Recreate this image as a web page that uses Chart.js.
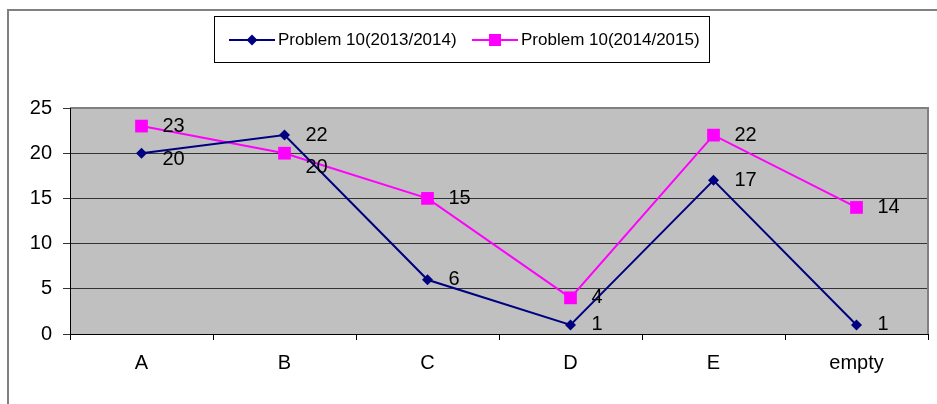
<!DOCTYPE html>
<html>
<head>
<meta charset="utf-8">
<script src="https://cdn.jsdelivr.net/npm/chart.js@4"></script>
<style>
  body { margin: 0; background: #fff; }
  #wrap { width: 937px; height: 404px; }
</style>
</head>
<body>
<div id="wrap"><canvas id="problem-chart" width="937" height="404"></canvas></div>
<script>
// categories and values
const categories = ["A", "B", "C", "D", "E", "empty"];
const series2013 = [20, 22, 6, 1, 17, 1];
const series2014 = [23, 20, 15, 4, 22, 14];
const seriesNames = ["Problem 10(2013/2014)", "Problem 10(2014/2015)"];
const yTicks = [0, 5, 10, 15, 20, 25];

const FONT = "'Liberation Sans', Arial, sans-serif";
const BLUE = "#000080";
const PINK = "#FF00FF";

// little vertical nudges for labels that would collide (like excel does)
const labelNudge = [[6, 0, 0, 0, 0, 0], [0, 14, 0, 0, 0, 0]];

// draws the frame, plot background, legend box and the value labels
const decoPlugin = {
  id: "deco",
  beforeDraw(chart) {
    const ctx = chart.ctx;
    const a = chart.chartArea;
    ctx.save();
    // outer frame (only top and left are visible)
    ctx.strokeStyle = "#808080";
    ctx.lineWidth = 2;
    ctx.beginPath();
    ctx.moveTo(8, 404);
    ctx.lineTo(8, 10);
    ctx.lineTo(937, 10);
    ctx.stroke();
    // grey plot area
    ctx.fillStyle = "#C0C0C0";
    ctx.fillRect(a.left, a.top, a.right - a.left, a.bottom - a.top);
    ctx.restore();
  },
  beforeDatasetsDraw(chart) {
    const ctx = chart.ctx;
    const a = chart.chartArea;
    ctx.save();
    ctx.strokeStyle = "#808080";
    ctx.lineWidth = 2;
    ctx.beginPath();
    ctx.moveTo(a.left, a.top);
    ctx.lineTo(a.right, a.top);
    ctx.lineTo(a.right, a.bottom);
    ctx.stroke();
    ctx.strokeStyle = "#000";
    ctx.lineWidth = 1;
    ctx.beginPath();
    ctx.moveTo(a.left + 0.5, a.top);
    ctx.lineTo(a.left + 0.5, a.bottom + 0.5);
    ctx.lineTo(a.right, a.bottom + 0.5);
    ctx.stroke();
    ctx.restore();
  },
  afterDatasetsDraw(chart) {
    const ctx = chart.ctx;
    ctx.save();
    ctx.font = "20px " + FONT;
    ctx.fillStyle = "#000";
    ctx.textAlign = "left";
    ctx.textBaseline = "middle";
    chart.data.datasets.forEach((ds, i) => {
      const meta = chart.getDatasetMeta(i);
      meta.data.forEach((pt, j) => {
        ctx.fillText(String(ds.data[j]), pt.x + 21, pt.y + labelNudge[i][j]);
      });
    });

    // legend box
    ctx.strokeStyle = "#000";
    ctx.lineWidth = 1;
    ctx.strokeRect(214.5, 16.5, 495, 46);
    const items = [
      { x: 229, color: BLUE, shape: "diamond", text: seriesNames[0] },
      { x: 472, color: PINK, shape: "square", text: seriesNames[1] },
    ];
    ctx.font = "17px " + FONT;
    items.forEach((it) => {
      const y = 40;
      ctx.strokeStyle = it.color;
      ctx.lineWidth = 2;
      ctx.beginPath();
      ctx.moveTo(it.x, y);
      ctx.lineTo(it.x + 46, y);
      ctx.stroke();
      ctx.fillStyle = it.color;
      const cx = it.x + 23;
      if (it.shape === "diamond") {
        ctx.beginPath();
        ctx.moveTo(cx, y - 5.5);
        ctx.lineTo(cx + 5.5, y);
        ctx.lineTo(cx, y + 5.5);
        ctx.lineTo(cx - 5.5, y);
        ctx.closePath();
        ctx.fill();
      } else {
        ctx.fillRect(cx - 6, y - 6, 12, 12);
      }
      ctx.fillStyle = "#000";
      ctx.fillText(it.text, it.x + 49, y);
    });
    ctx.restore();
  },
};

const problemData = {
  labels: categories,
  datasets: [
    {
      label: seriesNames[0],
      data: series2013,
      borderColor: BLUE,
      backgroundColor: BLUE,
      borderWidth: 2,
      pointStyle: "rectRot",
      pointRadius: 5.5,
      pointBorderWidth: 0,
      tension: 0,
    },
    {
      label: seriesNames[1],
      data: series2014,
      borderColor: PINK,
      backgroundColor: PINK,
      borderWidth: 2,
      pointStyle: "rect",
      pointRadius: 9,
      pointBorderWidth: 0,
      tension: 0,
    },
  ],
};

const problemConfig = {
  type: "line",
  data: problemData,
  plugins: [decoPlugin],
  options: {
    responsive: false,
    animation: false,
    layout: { padding: { top: 108, right: 7, left: 0, bottom: 0 } },
    plugins: { legend: { display: false }, tooltip: { enabled: false } },
    scales: {
      x: {
        offset: true,
        grid: { offset: true, drawOnChartArea: false, color: "#000", tickLength: 6 },
        border: { display: false },
        ticks: { color: "#000", font: { family: FONT, size: 20 }, padding: 11 },
        afterFit: (scale) => { scale.height = 70; },
      },
      y: {
        min: 0,
        max: 25,
        afterBuildTicks: (scale) => { scale.ticks = yTicks.map((v) => ({ value: v })); },
        grid: { color: "#333", tickLength: 7, drawTicks: true },
        border: { display: false },
        ticks: { color: "#000", font: { family: FONT, size: 20 }, padding: 11 },
        afterFit: (scale) => { scale.width = 70; },
      },
    },
  },
};

const problemChart = new Chart(document.getElementById("problem-chart"), problemConfig);
</script>
</body>
</html>
